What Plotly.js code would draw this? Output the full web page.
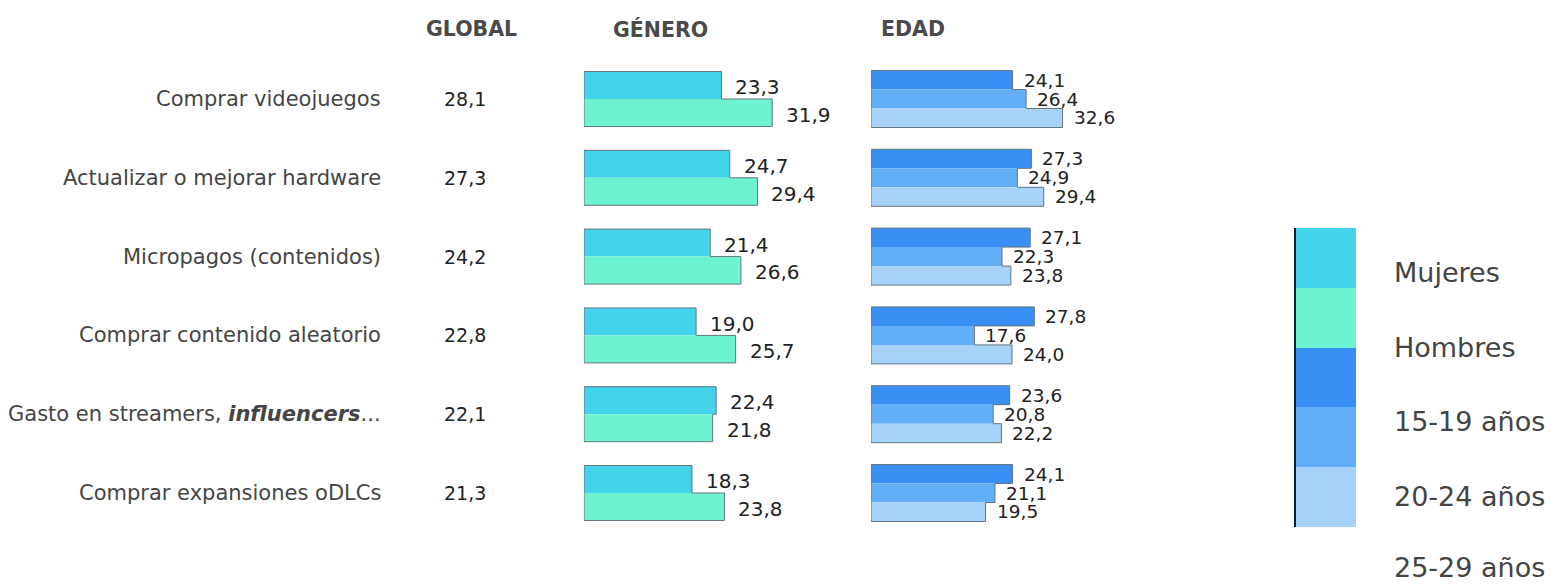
<!DOCTYPE html>
<html>
<head>
<meta charset="utf-8">
<script src="https://cdn.plot.ly/plotly-3.0.1.min.js"></script>
<style>
html,body{margin:0;padding:0;background:#fff;}
#chart{width:1558px;height:585px;}
</style>
</head>
<body>
<div id="chart"></div>
<script>
// ---------- DATA ----------
const categories = [
  "Comprar videojuegos",
  "Actualizar o mejorar hardware",
  "Micropagos (contenidos)",
  "Comprar contenido aleatorio",
  "Gasto en streamers, <b><i>influencers</i></b>...",
  "Comprar expansiones oDLCs"
];
const globalValues = [28.1, 27.3, 24.2, 22.8, 22.1, 21.3];
const mujeres   = [23.3, 24.7, 21.4, 19.0, 22.4, 18.3];
const hombres   = [31.9, 29.4, 26.6, 25.7, 21.8, 23.8];
const edad15_19 = [24.1, 27.3, 27.1, 27.8, 23.6, 24.1];
const edad20_24 = [26.4, 24.9, 22.3, 17.6, 20.8, 21.1];
const edad25_29 = [32.6, 29.4, 23.8, 24.0, 22.2, 19.5];
const legendLabels = ["Mujeres", "Hombres", "15-19 años", "20-24 años", "25-29 años"];
const sectionHeaders = ["GLOBAL", "GÉNERO", "EDAD"];

// ---------- STYLE ----------
const W = 1558, H = 585;
const FONT = "DejaVu Sans";
const colors = ["#43d3ea", "#6ef3d0", "#3a8ff5", "#62aef7", "#a7d3fb"];
const outlineColor = "#66757e";
const rowIdx = categories.map((_, i) => i);
const fmt = v => v.toFixed(1).replace('.', ',');
const px = p => p / W;
const py = p => 1 - p / H;

const genderW = 0.349, genderOff = [-0.349, 0];
const ageW = 0.241, ageOff = [-0.3615, -0.1205, 0.1205];

const genderSeries = [mujeres, hombres];
const ageSeries = [edad15_19, edad20_24, edad25_29];

const traces = [];
genderSeries.forEach((vals, k) => {
  traces.push({
    type: 'bar', orientation: 'h', x: vals, y: rowIdx, xaxis: 'x', yaxis: 'y',
    width: genderW, offset: genderOff[k], name: legendLabels[k],
    marker: {color: colors[k], line: {width: 0}}, hoverinfo: 'skip', showlegend: false
  });
});
ageSeries.forEach((vals, k) => {
  traces.push({
    type: 'bar', orientation: 'h', x: vals, y: rowIdx, xaxis: 'x2', yaxis: 'y2',
    width: ageW, offset: ageOff[k], name: legendLabels[k + 2],
    marker: {color: colors[k + 2], line: {width: 0}}, hoverinfo: 'skip', showlegend: false
  });
});

// step outlines around each bar group, built from the data
function outline(series, offs, w) {
  const xs = [], ys = [];
  rowIdx.forEach(i => {
    const top = i + offs[0];
    xs.push(0); ys.push(top);
    series.forEach((vals, k) => {
      const y0 = top + k * w, y1 = y0 + w;
      xs.push(vals[i]); ys.push(y0);
      xs.push(vals[i]); ys.push(y1);
    });
    xs.push(0); ys.push(top + series.length * w);
    xs.push(0); ys.push(top);
    xs.push(null); ys.push(null);
  });
  return {xs, ys};
}
const og = outline(genderSeries, genderOff, genderW);
traces.push({type: 'scatter', mode: 'lines', x: og.xs, y: og.ys, xaxis: 'x', yaxis: 'y',
  line: {color: outlineColor, width: 1}, hoverinfo: 'skip', showlegend: false});
const oa = outline(ageSeries, ageOff, ageW);
traces.push({type: 'scatter', mode: 'lines', x: oa.xs, y: oa.ys, xaxis: 'x2', yaxis: 'y2',
  line: {color: outlineColor, width: 1}, hoverinfo: 'skip', showlegend: false});

// legend swatch as a heatmap strip
traces.push({
  type: 'heatmap', xaxis: 'x3', yaxis: 'y3',
  z: legendLabels.map((_, i) => [i]), y: legendLabels, x: [0],
  zmin: 0, zmax: legendLabels.length - 1, showscale: false, hoverinfo: 'skip',
  colorscale: [[0, colors[0]], [0.125, colors[0]], [0.125, colors[1]], [0.375, colors[1]],
               [0.375, colors[2]], [0.625, colors[2]], [0.625, colors[3]], [0.875, colors[3]],
               [0.875, colors[4]], [1, colors[4]]]
});

// ---------- ANNOTATIONS ----------
const ann = [];
const headerX = [471, 660, 913];
sectionHeaders.forEach((t, i) => ann.push({
  text: t, xref: 'paper', yref: 'paper', x: px(headerX[i]), y: py(29),
  xanchor: 'center', yanchor: 'middle', showarrow: false,
  font: {family: FONT, size: 20.5, color: '#4a4a4a', weight: 700}
}));
categories.forEach((c, i) => {
  ann.push({text: c, xref: 'paper', yref: 'y', x: px(383), y: i, xanchor: 'right', yanchor: 'middle',
    showarrow: false, font: {family: FONT, size: 21, color: '#454545'}});
  ann.push({text: fmt(globalValues[i]), xref: 'paper', yref: 'y', x: px(465), y: i, xanchor: 'center',
    yanchor: 'middle', showarrow: false, font: {family: FONT, size: 19, color: '#222'}});
});
genderSeries.forEach((vals, k) => vals.forEach((v, i) => ann.push({
  text: fmt(v), xref: 'x', yref: 'y', x: v, y: i + genderOff[k] + genderW / 2,
  xanchor: 'left', yanchor: 'middle', xshift: 12, yshift: -2, showarrow: false,
  font: {family: FONT, size: 20, color: '#222'}
})));
ageSeries.forEach((vals, k) => vals.forEach((v, i) => ann.push({
  text: fmt(v), xref: 'x2', yref: 'y2', x: v, y: i + ageOff[k] + ageW / 2,
  xanchor: 'left', yanchor: 'middle', xshift: 9, showarrow: false,
  font: {family: FONT, size: 18.5, color: '#222'}
})));
const legendTextY = [272, 347, 421, 496, 567];
legendLabels.forEach((t, i) => ann.push({
  text: t, xref: 'paper', yref: 'paper', x: px(1392), y: py(legendTextY[i]),
  xanchor: 'left', yanchor: 'middle', showarrow: false,
  font: {family: FONT, size: 27, color: '#444'}
}));

const hidden = {visible: false, showgrid: false, zeroline: false, fixedrange: true};
const yDomain = [py(532.4), py(59.6)];
const layout = {
  width: W, height: H, margin: {l: 0, r: 0, t: 0, b: 0},
  paper_bgcolor: '#fff', plot_bgcolor: 'rgba(0,0,0,0)',
  barmode: 'overlay', hovermode: false, showlegend: false,
  xaxis: Object.assign({}, hidden, {domain: [px(584), px(820)], range: [0, 40]}),
  yaxis: Object.assign({}, hidden, {domain: yDomain, range: [5.5, -0.5]}),
  xaxis2: Object.assign({}, hidden, {domain: [px(871), px(1106)], range: [0, 40], anchor: 'y2'}),
  yaxis2: Object.assign({}, hidden, {domain: yDomain, range: [5.5, -0.5], anchor: 'x2'}),
  xaxis3: Object.assign({}, hidden, {domain: [px(1296), px(1356)], anchor: 'y3'}),
  yaxis3: {domain: [py(527), py(228)], anchor: 'x3', autorange: 'reversed', showgrid: false,
    zeroline: false, showticklabels: false, ticks: '', showline: true, linecolor: '#0b1b3a',
    linewidth: 2, fixedrange: true},
  annotations: ann
};

Plotly.newPlot('chart', traces, layout, {displayModeBar: false, staticPlot: true});
</script>
</body>
</html>
